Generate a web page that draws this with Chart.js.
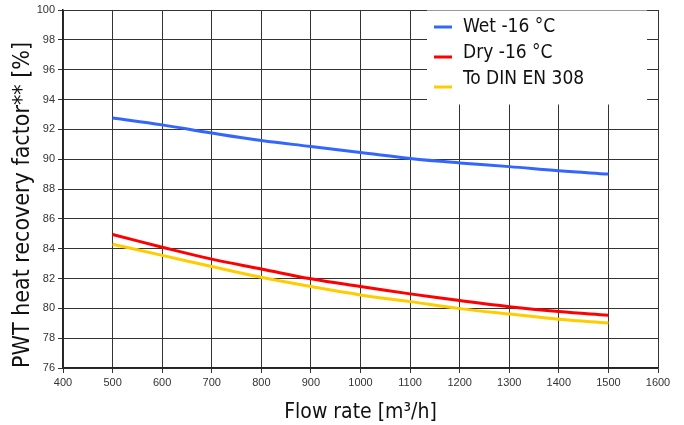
<!DOCTYPE html>
<html>
<head>
<meta charset="utf-8">
<script src="https://cdn.jsdelivr.net/npm/chart.js@4.4.1/dist/chart.umd.min.js"></script>
<style>
  html, body { margin: 0; padding: 0; background: #fff; }
  #wrap { width: 684px; height: 425px; position: relative; }
</style>
</head>
<body>
<div id="wrap"><canvas id="chart"></canvas></div>
<script>
// flow rate in m3/h
const flowRates = [500, 600, 700, 800, 900, 1000, 1100, 1200, 1300, 1400, 1500];

// heat recovery factor in %
const wet16 = [92.76, 92.3, 91.75, 91.25, 90.85, 90.45, 90.05, 89.75, 89.5, 89.22, 89.0];
const dry16 = [84.95, 84.1, 83.3, 82.64, 81.98, 81.46, 80.97, 80.52, 80.11, 79.78, 79.54];
const dinEn308 = [84.3, 83.55, 82.8, 82.08, 81.46, 80.9, 80.45, 79.98, 79.62, 79.27, 79.02];

const seriesLabels = ['Wet -16 °C', 'Dry -16 °C', 'To DIN EN 308'];
const seriesColors = ['#3366ff', '#ff0000', '#ffcc00'];

const titleFont = '"DejaVu Sans Condensed", sans-serif';

function toPoints(values) {
  return values.map((v, i) => ({ x: flowRates[i], y: v }));
}

// legend box drawn inside the plot, over the grid
const boxLegend = {
  id: 'boxLegend',
  afterDatasetsDraw(chart) {
    const ctx = chart.ctx;
    const area = chart.chartArea;
    const x0 = 427, y0 = area.top + 0.5, w = area.right - x0 - 11, h = 94;
    ctx.save();
    ctx.fillStyle = '#fff';
    ctx.fillRect(x0, y0, w, h);
    ctx.font = '19px ' + titleFont;
    ctx.textBaseline = 'middle';
    chart.data.datasets.forEach((ds, i) => {
      const ty = 27 + i * 26;
      ctx.strokeStyle = ds.borderColor;
      ctx.lineWidth = 3;
      ctx.beginPath();
      ctx.moveTo(434, ty + i * 4);
      ctx.lineTo(452, ty + i * 4);
      ctx.stroke();
      ctx.fillStyle = '#111';
      ctx.fillText(ds.label, 463, ty);
    });
    ctx.restore();
  }
};

new Chart(document.getElementById('chart'), {
  type: 'line',
  data: {
    datasets: [wet16, dry16, dinEn308].map((vals, i) => ({
      label: seriesLabels[i],
      data: toPoints(vals),
      borderColor: seriesColors[i],
      backgroundColor: seriesColors[i],
      borderWidth: 3,
      pointRadius: 0,
      tension: 0.4,
      fill: false
    }))
  },
  options: {
    responsive: true,
    maintainAspectRatio: false,
    animation: false,
    layout: { padding: { top: 10, right: 26, left: 0, bottom: 0 } },
    plugins: {
      legend: { display: false },
      tooltip: { enabled: false }
    },
    scales: {
      x: {
        type: 'linear',
        min: 400,
        max: 1600,
        afterFit: s => { s.height = 57; },
        ticks: {
          stepSize: 100,
          color: '#333',
          font: { family: 'Liberation Sans, Arial, sans-serif', size: 11 },
          padding: 3,
          maxRotation: 0,
          callback: v => String(v)
        },
        grid: { color: '#333', lineWidth: 1, tickLength: 5, tickColor: '#333' },
        border: { color: '#222', width: 1.5 },
        title: {
          display: true,
          text: 'Flow rate [m³/h]',
          color: '#111',
          font: { family: titleFont, size: 21 },
          padding: { top: 4, bottom: 0 }
        }
      },
      y: {
        min: 76,
        max: 100,
        afterFit: s => { s.width = 63; },
        ticks: {
          stepSize: 2,
          color: '#333',
          font: { family: 'Liberation Sans, Arial, sans-serif', size: 11 },
          padding: 3
        },
        grid: { color: '#333', lineWidth: 1, tickLength: 5, tickColor: '#333' },
        border: { color: '#222', width: 1.5 },
        title: {
          display: true,
          text: 'PWT heat recovery factor** [%]',
          align: 'start',
          color: '#111',
          font: { family: titleFont, size: 23 },
          padding: { top: 9, bottom: 0 }
        }
      }
    }
  },
  plugins: [boxLegend]
});
</script>
</body>
</html>
